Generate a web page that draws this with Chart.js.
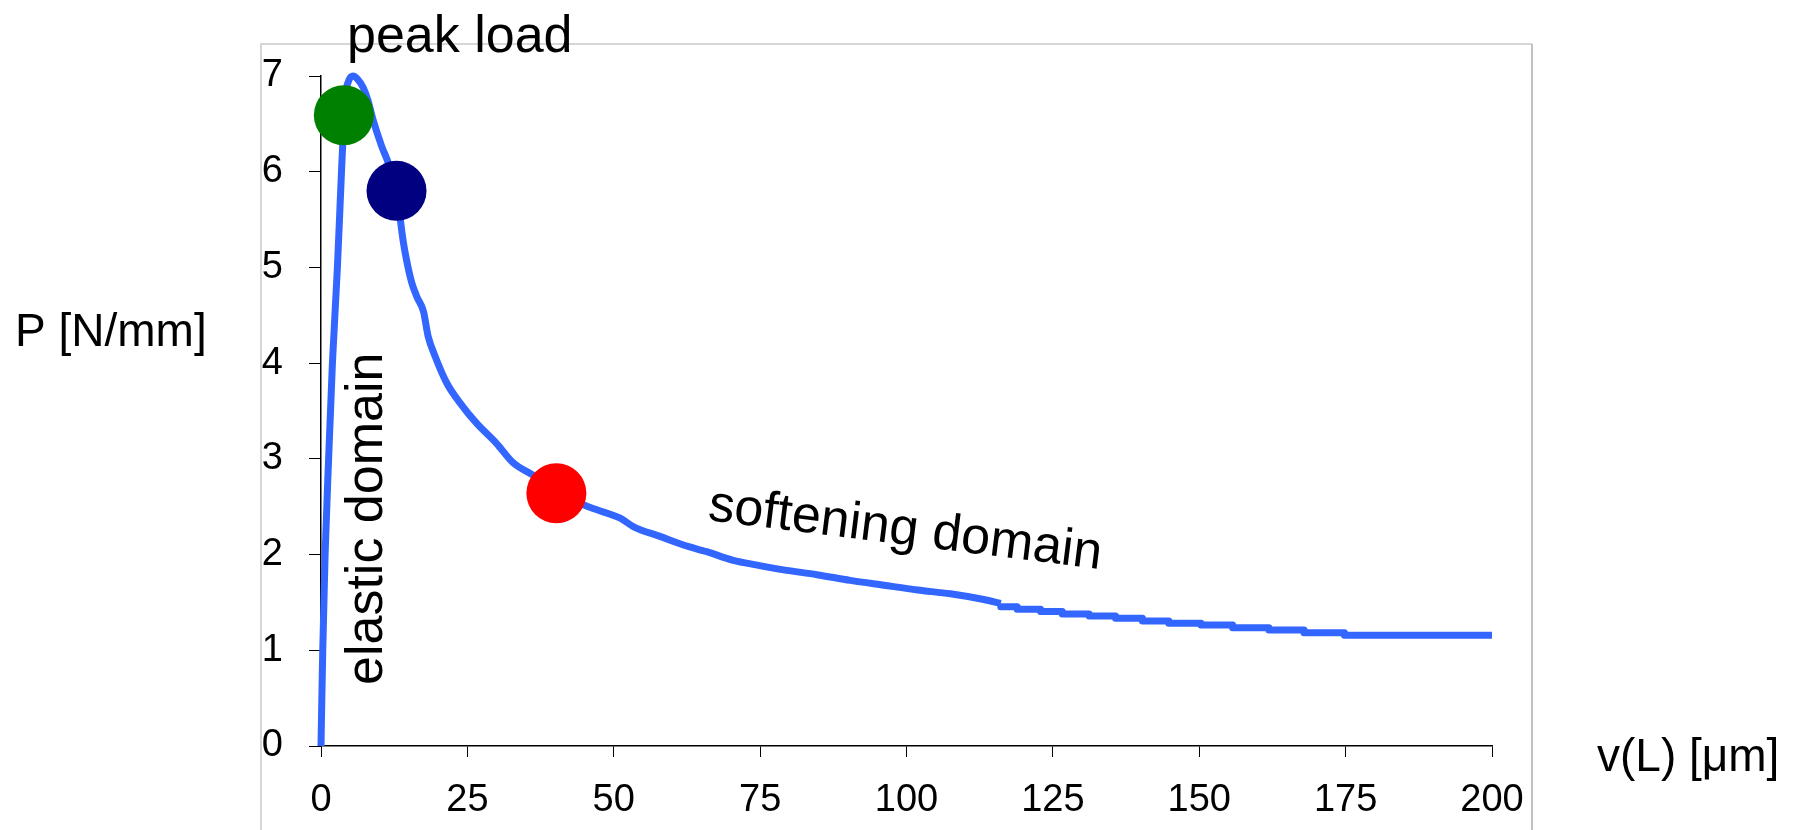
<!DOCTYPE html>
<html>
<head>
<meta charset="utf-8">
<script src="https://cdn.jsdelivr.net/npm/chart.js@4.4.1/dist/chart.umd.min.js"></script>
<style>
  html, body { margin: 0; padding: 0; background: #ffffff; }
  #wrap { width: 1799px; height: 830px; position: relative; }
</style>
</head>
<body>
<div id="wrap"><canvas id="c" width="1799" height="830"></canvas></div>
<script>
// ---- data ----
const curveV = [0, 0.1, 0.3, 0.7, 1.3, 1.95, 2.8, 3.5, 3.8, 4.2, 4.8, 5.5, 6.2, 7.2, 8.0, 8.9, 10.4, 11.5, 13.0, 14.0, 14.6, 15.5, 16.4, 17.5, 18.3, 19.5, 21.5, 23.8, 26.6, 30.0, 32.8, 36.2, 40.2, 44.8, 47.0, 51.1, 53.4, 57.9, 61.9, 65.9, 70.4, 74.5, 79.0, 84.7, 90.4, 96.1, 101.9, 107.5, 113.2, 116.1];
const curveP = [0, 0.35, 1.0, 2.0, 3.0, 4.0, 5.0, 6.0, 6.4, 6.8, 6.96, 7.0, 6.97, 6.88, 6.75, 6.54, 6.26, 6.09, 5.75, 5.29, 5.08, 4.84, 4.69, 4.54, 4.28, 4.07, 3.79, 3.58, 3.37, 3.16, 2.96, 2.83, 2.66, 2.52, 2.47, 2.38, 2.29, 2.19, 2.10, 2.03, 1.94, 1.89, 1.84, 1.79, 1.73, 1.68, 1.63, 1.59, 1.53, 1.49];
const tailV = [116.1, 118.9, 122.9, 126.6, 131.2, 135.7, 140.3, 144.8, 150.3, 155.7, 161.9, 167.9, 174.8, 184.4, 200.0];
const tailP = [1.49, 1.456, 1.428, 1.404, 1.379, 1.358, 1.334, 1.306, 1.282, 1.264, 1.236, 1.212, 1.184, 1.157, 1.157];
const markerV = [3.9, 12.9, 40.2];
const markerP = [6.59, 5.80, 2.64];
const markerColors = ['#008000', '#000080', '#ff0000'];
const xTicks = [0, 25, 50, 75, 100, 125, 150, 175, 200];
const yTicks = [0, 1, 2, 3, 4, 5, 6, 7];
const labels = {
  yTitle: 'P [N/mm]',
  xTitle: 'v(L) [\u03bcm]',
  peak: 'peak load',
  elastic: 'elastic domain',
  softening: 'softening domain'
};

const FONT = '"Liberation Sans", Arial, Helvetica, sans-serif';
const LINE = 'rgb(51,102,255)';

const toPts = (xs, ys) => xs.map((x, i) => ({ x: x, y: ys[i] }));

const markerSets = markerV.map((v, i) => ({
  type: 'scatter',
  data: [{ x: v, y: markerP[i] }],
  pointRadius: 30,
  pointHoverRadius: 30,
  pointBackgroundColor: markerColors[i],
  pointBorderWidth: 0,
  borderWidth: 0,
  showLine: false,
  clip: false
}));

const framePlugin = {
  id: 'frame',
  beforeDraw(chart) {
    const ctx = chart.ctx;
    ctx.save();
    ctx.fillStyle = '#ffffff';
    ctx.fillRect(0, 0, chart.width, chart.height);
    ctx.strokeStyle = '#d6d6d6';
    ctx.lineWidth = 2;
    ctx.beginPath();
    ctx.moveTo(261, 840);
    ctx.lineTo(261, 44);
    ctx.lineTo(1532, 44);
    ctx.stroke();
    ctx.strokeStyle = '#c0c0c0';
    ctx.beginPath();
    ctx.moveTo(1532, 44);
    ctx.lineTo(1532, 840);
    ctx.stroke();
    ctx.restore();
  }
};

const textPlugin = {
  id: 'texts',
  afterDraw(chart) {
    const ctx = chart.ctx;
    ctx.save();
    ctx.fillStyle = '#000000';
    ctx.textBaseline = 'alphabetic';
    ctx.textAlign = 'left';
    ctx.font = '46px ' + FONT;
    ctx.fillText(labels.yTitle, 15, 346);
    ctx.fillText(labels.xTitle, 1597, 771);
    ctx.font = '52px ' + FONT;
    ctx.fillText(labels.peak, 347, 52);
    // elastic domain (rotated, reading upwards)
    ctx.save();
    ctx.translate(382, 685);
    ctx.rotate(-Math.PI / 2);
    ctx.fillText(labels.elastic, 0, 0);
    ctx.restore();
    // softening domain (slightly tilted)
    ctx.save();
    ctx.translate(707, 520);
    ctx.rotate(7.1 * Math.PI / 180);
    ctx.fillText(labels.softening, 0, 0);
    ctx.restore();
    ctx.restore();
  }
};

new Chart(document.getElementById('c'), {
  type: 'scatter',
  data: {
    datasets: [
      ...markerSets,
      {
        type: 'line',
        data: toPts(curveV, curveP),
        borderColor: LINE,
        borderWidth: 7,
        pointRadius: 0,
        cubicInterpolationMode: 'monotone',
        fill: false,
        showLine: true,
        borderJoinStyle: 'round',
        borderCapStyle: 'butt',
        clip: false
      },
      {
        type: 'line',
        data: toPts(tailV, tailP),
        borderColor: LINE,
        borderWidth: 7,
        pointRadius: 0,
        stepped: 'after',
        fill: false,
        showLine: true,
        borderJoinStyle: 'round',
        clip: false
      }
    ]
  },
  options: {
    responsive: false,
    animation: false,
    devicePixelRatio: 1,
    events: [],
    layout: { padding: { left: 0, right: 307, top: 76, bottom: 0 } },
    plugins: { legend: { display: false }, tooltip: { enabled: false } },
    scales: {
      x: {
        type: 'linear',
        min: 0, max: 200,
        afterFit(s) { s.height = 84; },
        afterBuildTicks(s) { s.ticks = xTicks.map(v => ({ value: v })); },
        grid: { display: true, drawOnChartArea: false, drawTicks: true, tickLength: 11, color: '#000000', lineWidth: 1 },
        border: { display: true, color: '#000000', width: 1.5 },
        ticks: { padding: 21, color: '#000000', font: { family: FONT, size: 38 }, maxRotation: 0 }
      },
      y: {
        type: 'linear',
        min: 0, max: 7,
        afterFit(s) { s.width = 321; },
        afterBuildTicks(s) { s.ticks = yTicks.map(v => ({ value: v })); },
        grid: { display: true, drawOnChartArea: false, drawTicks: true, tickLength: 12, color: '#000000', lineWidth: 1 },
        border: { display: true, color: '#000000', width: 1.5 },
        ticks: { padding: 26, color: '#000000', font: { family: FONT, size: 38 } }
      }
    }
  },
  plugins: [framePlugin, textPlugin]
});
</script>
</body>
</html>
